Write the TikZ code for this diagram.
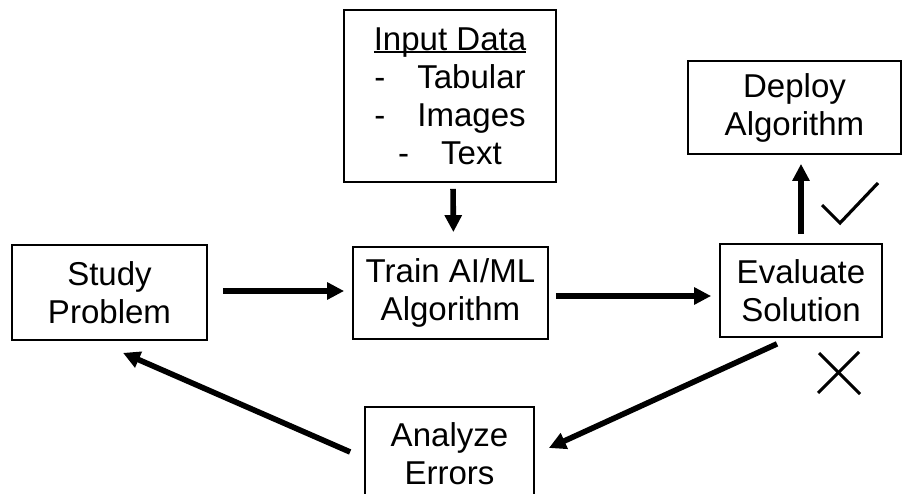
\documentclass[tikz,border=0pt]{standalone}
\usepackage{fontspec}
\setmainfont{Liberation Sans}
\usetikzlibrary{arrows.meta, positioning}

\newcommand{\headline}[1]{{\setbox0\hbox{#1}\rlap{\rule[-1.6pt]{\wd0}{1.1pt}}\box0}}

\begin{document}
\begin{tikzpicture}[
    stagebox/.style={
        draw,
        line width=1pt,
        align=center,
        inner sep=0pt,
        font=\fontsize{18.8}{21.6}\selectfont,
    },
    flow/.style={
        line width=3.2pt,
        -{Triangle[length=3.4mm,width=3.3mm]},
    },
    verdict/.style={
        line width=1.8pt,
    }
]
    \useasboundingbox (0,0) rectangle (18.04,-9.88);
    \clip (0,0) rectangle (18.04,-9.88);

    % Stages
    \node[stagebox, minimum width=4.24cm, minimum height=3.44cm] (input) at (9.0,-1.92)
        {\headline{Input Data}\\ -\hspace{0.64cm}Tabular\\ -\hspace{0.64cm}Images\\ -\hspace{0.64cm}Text};
    \node[stagebox, minimum width=3.9cm, minimum height=1.9cm] (study) at (2.19,-5.85) {Study\\Problem};
    \node[stagebox, minimum width=3.9cm, minimum height=1.84cm] (train) at (9.01,-5.86) {Train AI/ML\\Algorithm};
    \node[stagebox, minimum width=3.24cm, minimum height=1.86cm] (eval) at (16.02,-5.81) {Evaluate\\Solution};
    \node[stagebox, minimum width=4.26cm, minimum height=1.86cm] (deploy) at (15.89,-2.15) {Deploy\\Algorithm};
    \node[stagebox, minimum width=3.38cm, minimum height=1.86cm] (analyze) at (8.99,-9.07) {Analyze\\Errors};

    % Flow
    \draw[flow, shorten <=0.12cm, shorten >=0.28cm] ([xshift=0.06cm]input.south) -- ([xshift=0.06cm]train.north);
    \draw[flow, shorten <=0.3cm, shorten >=0.16cm] ([yshift=0.03cm]study.east) -- ([yshift=0.03cm]study.east -| train.west);
    \draw[flow, shorten <=0.14cm, shorten >=0.16cm] ([yshift=-0.06cm]train.east) -- ([yshift=-0.06cm]train.east -| eval.west);
    \draw[flow, shorten <=0.18cm, shorten >=0.18cm] (eval.north) -- (eval.north |- deploy.south);
    \draw[flow] ([xshift=-0.48cm,yshift=-0.12cm]eval.south) -- ([xshift=0.28cm,yshift=0.11cm]analyze.east);
    \draw[flow] ([xshift=-0.28cm,yshift=0.03cm]analyze.west) -- ([xshift=0.27cm,yshift=-0.24cm]study.south);

    % Pass / fail
    \draw[verdict] (16.44,-4.10) -- (16.80,-4.46) -- (17.56,-3.66);
    \draw[verdict] (16.38,-7.06) -- (17.20,-7.88);
    \draw[verdict] (17.18,-7.04) -- (16.36,-7.86);
\end{tikzpicture}
\end{document}
